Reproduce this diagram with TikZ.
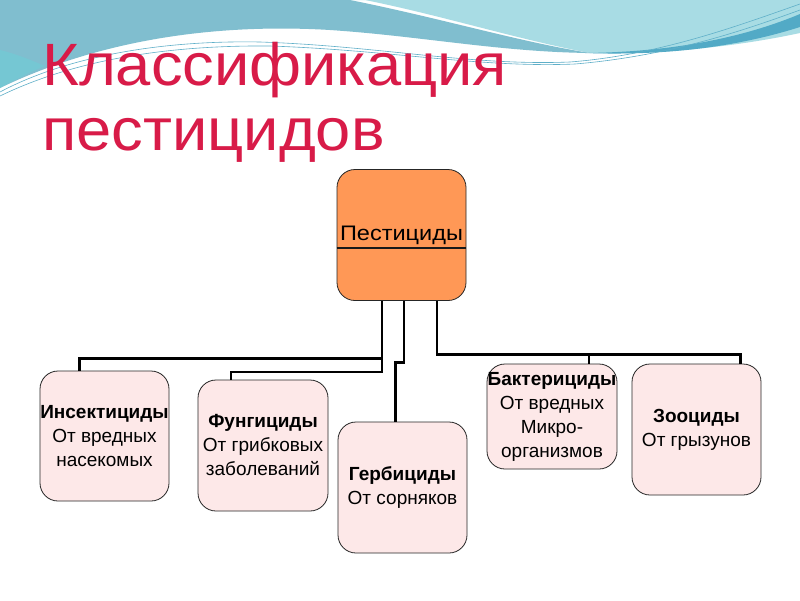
\documentclass[tikz,border=0pt]{standalone}
\usepackage{fontspec}
\setmainfont{Liberation Sans}
\definecolor{titlered}{RGB}{216,27,72}
\definecolor{darkteal}{RGB}{128,190,207}
\definecolor{lightcyan}{RGB}{168,220,228}
\definecolor{bandteal}{RGB}{82,170,198}
\definecolor{lineteal}{RGB}{95,175,200}
\definecolor{turq}{RGB}{110,205,215}
\definecolor{orangefill}{RGB}{255,152,86}
\definecolor{pinkfill}{RGB}{253,232,232}
\tikzset{
  childbox/.style={draw=black!85, line width=0.8pt, fill=pinkfill, rounded corners=18pt,
    minimum width=129pt, minimum height=130pt, inner sep=0pt, align=center,
    font=\fontsize{19}{24}\selectfont},
  rootbox/.style={draw=black!85, line width=0.8pt, fill=orangefill, rounded corners=18pt,
    minimum width=129pt, minimum height=131pt, inner sep=0pt, align=center,
    font=\fontsize{21}{25}\selectfont},
  conn/.style={draw=black, line width=2.4pt},
  titletext/.style={anchor=base west, inner sep=0pt, text=titlered,
    font=\fontsize{58}{58}\selectfont}
}
\begin{document}
\begin{tikzpicture}[x=1pt,y=-1pt]
\useasboundingbox (0,0) rectangle (800,600);
\fill[white] (0,0) rectangle (800,600);
% waves
\fill[lightcyan] (330,0) -- (800,0) -- (800,33)
  .. controls (740,46) and (660,55) .. (590,53)
  .. controls (520,40) and (440,15) .. (365,0) -- cycle;
\fill[darkteal] (0,0) -- (350,0)
  .. controls (440,18) and (520,42) .. (590,53)
  .. controls (500,52) and (420,36) .. (330,30)
  .. controls (230,24) and (110,35) .. (0,88) -- cycle;
\fill[turq, opacity=0.6] (0,50) .. controls (20,55) and (35,62) .. (45,66)
  .. controls (30,72) and (15,80) .. (0,88) -- cycle;
\fill[bandteal] (585,53) .. controls (680,52) and (750,35) .. (800,14)
  -- (800,27) .. controls (740,46) and (670,56) .. (585,53) -- cycle;
\draw[lineteal, line width=0.6pt] (0,92) .. controls (60,60) and (150,40) .. (260,42)
  .. controls (380,46) and (470,66) .. (570,62) .. controls (660,55) and (740,25) .. (800,4);
\draw[lineteal, line width=0.6pt] (0,96) .. controls (70,62) and (160,45) .. (270,46)
  .. controls (390,50) and (480,68) .. (575,64) .. controls (670,56) and (745,30) .. (800,10);
% title
\node[titletext] (t1) at (42,85) {\scalebox{1.09}[1.03]{Классификация}};
\node[titletext] (t2) at (42,150) {\scalebox{1.09}[1.03]{пестицидов}};
% nodes
\node[rootbox] (P) at (401.5,235) {\scalebox{1.12}[1]{Пестициды}};
\draw[line width=2pt, black!90] ([yshift=-13pt]P.west) -- ([yshift=-13pt]P.east);
\node[childbox] (I) at (104.5,436) {\textbf{Инсектициды}\\От вредных\\насекомых};
\node[childbox, minimum width=130pt, minimum height=131pt] (F) at (263,445.5) {\textbf{Фунгициды}\\От грибковых\\заболеваний};
\node[childbox, minimum height=131pt] (H) at (402.5,487.5) {\textbf{Гербициды}\\От сорняков};
\node[childbox, minimum width=130pt, minimum height=105pt] (B) at (552,416.5) {\textbf{Бактерициды}\\От вредных\\Микро-\\организмов};
\node[childbox, minimum height=131pt] (Z) at (696.5,429.5) {\textbf{Зооциды}\\От грызунов};
% connectors
\draw[conn] ([xshift=-19.5pt]P.south) -- ++(0,57.5) -| ([xshift=-25pt]I.north);
\draw[conn] ([xshift=-19.5pt]P.south) -- ++(0,71) -| ([xshift=-32pt]F.north);
\draw[conn] ([xshift=2.5pt]P.south) -- ++(0,61.5) -| ([xshift=-7pt]H.north);
\draw[conn] ([xshift=35.5pt]P.south) -- ++(0,53.5) -| ([xshift=37pt]B.north);
\draw[conn] ([xshift=35.5pt]P.south) -- ++(0,53.5) -| ([xshift=44pt]Z.north);
\end{tikzpicture}
\end{document}
